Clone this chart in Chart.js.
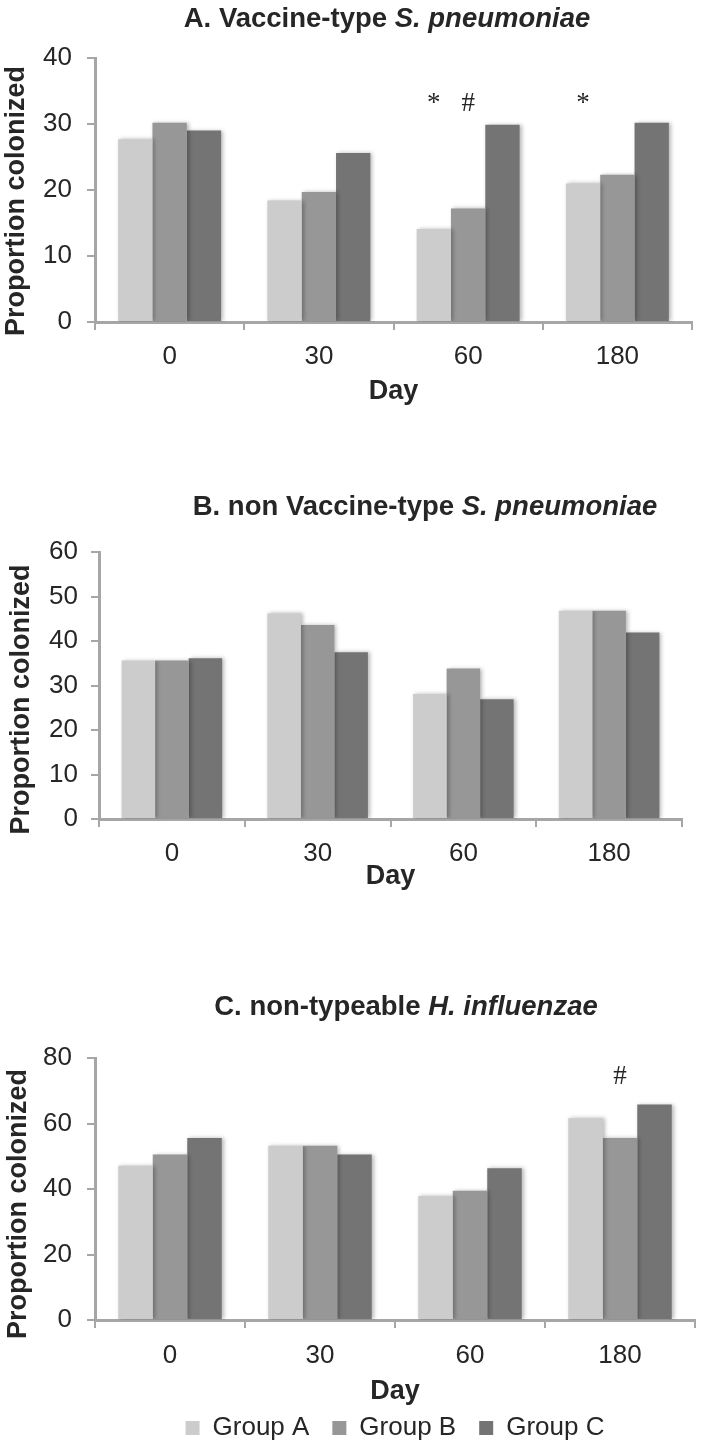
<!DOCTYPE html>
<html>
<head>
<meta charset="utf-8">
<script src="https://cdn.jsdelivr.net/npm/chart.js@4.4.1/dist/chart.umd.min.js"></script>
<style>
  html, body { margin: 0; padding: 0; background: #fff; overflow: hidden; }
  .panel { position: absolute; left: 0; width: 701px; }
</style>
</head>
<body>
<div class="panel" style="top:0px;height:410px"><canvas id="chartA"></canvas></div>
<div class="panel" style="top:470px;height:425px"><canvas id="chartB"></canvas></div>
<div class="panel" style="top:940px;height:511px"><canvas id="chartC"></canvas></div>
<script>
var days = ['0', '30', '60', '180'];
var groups = ['Group A', 'Group B', 'Group C'];

// A. vaccine-type S. pneumoniae
var vtGroupA = [27.7, 18.4, 14.1, 21.0];
var vtGroupB = [30.2, 19.7, 17.2, 22.3];
var vtGroupC = [29.0, 25.6, 29.9, 30.2];
var vtTicks = [0, 10, 20, 30, 40];

// B. non vaccine-type S. pneumoniae
var nvtGroupA = [35.6, 46.2, 28.1, 46.8];
var nvtGroupB = [35.6, 43.6, 33.8, 46.8];
var nvtGroupC = [36.1, 37.5, 26.9, 41.9];
var nvtTicks = [0, 10, 20, 30, 40, 50, 60];

// C. non-typeable H. influenzae
var ntGroupA = [47.1, 53.2, 37.9, 61.6];
var ntGroupB = [50.5, 53.2, 39.5, 55.6];
var ntGroupC = [55.6, 50.5, 46.3, 65.8];
var ntTicks = [0, 20, 40, 60, 80];

// significance marks: day, bar it sits over, symbol, height on value axis
var vtMarks = [['60', 0, '*', 32], ['60', 1, '#', 32], ['180', 0, '*', 32]];
var nvtMarks = [];
var ntMarks = [['180', 1, '#', 72]];

var colors = ['#cccccc', '#979797', '#737473'];
var axisGray = '#a6a6a6';
var textColor = '#262626';
var sans = '"Liberation Sans", Arial, sans-serif';

var barShadow = {
  id: 'barShadow',
  beforeDatasetsDraw: function(chart) {
    var c = chart.ctx;
    c.save();
    c.shadowColor = 'rgba(0,0,0,0.28)';
    c.shadowBlur = 4;
    c.shadowOffsetX = 2;
  },
  afterDatasetsDraw: function(chart) {
    chart.ctx.restore();
  }
};

// panel heading with an italic species name, plus the value axis title
var panelTitle = {
  id: 'panelTitle',
  afterDraw: function(chart, args, o) {
    var ctx = chart.ctx, area = chart.chartArea;
    var fontOf = function(p) { return (p[1] ? 'italic ' : '') + 'bold 27.5px ' + sans; };
    ctx.save();
    ctx.fillStyle = textColor;
    ctx.textAlign = 'left';
    ctx.textBaseline = 'alphabetic';
    var w = 0;
    o.parts.forEach(function(p) { ctx.font = fontOf(p); w += ctx.measureText(p[0]).width; });
    var x = o.cx - w / 2;
    o.parts.forEach(function(p) {
      ctx.font = fontOf(p);
      ctx.fillText(p[0], x, o.baseline);
      x += ctx.measureText(p[0]).width;
    });

    ctx.translate(o.yTitleX, (area.top + area.bottom) / 2 + o.yTitleShift);
    ctx.rotate(-Math.PI / 2);
    ctx.font = 'bold 27px ' + sans;
    ctx.textAlign = 'center';
    ctx.textBaseline = 'middle';
    ctx.fillText(o.yTitle, 0, 0);
    ctx.restore();
  }
};

var sigMarks = {
  id: 'sigMarks',
  afterDatasetsDraw: function(chart, args, o) {
    var ctx = chart.ctx, y = chart.scales.y;
    ctx.save();
    ctx.font = '27px "Liberation Serif", "Times New Roman", serif';
    ctx.fillStyle = textColor;
    ctx.textAlign = 'center';
    ctx.textBaseline = 'alphabetic';
    o.marks.forEach(function(m) {
      var bar = chart.getDatasetMeta(m[1]).data[days.indexOf(m[0])];
      ctx.fillText(m[2], bar.x, y.getPixelForValue(m[3]));
    });
    ctx.restore();
  }
};

function makeChart(id, series, ticks, marks, titleParts, lay) {
  return new Chart(document.getElementById(id), {
    type: 'bar',
    data: {
      labels: days,
      datasets: series.map(function(s, i) {
        return { label: groups[i], data: s, backgroundColor: colors[i], borderWidth: 0 };
      })
    },
    options: {
      responsive: true,
      maintainAspectRatio: false,
      animation: false,
      layout: { padding: { top: lay.top, right: lay.right, left: 0, bottom: 0 } },
      datasets: { bar: { categoryPercentage: 0.69, barPercentage: 1 } },
      scales: {
        x: {
          grid: { offset: true, drawOnChartArea: false, color: axisGray, lineWidth: 2, tickLength: 8 },
          border: { color: axisGray, width: 3 },
          ticks: { font: { family: sans, size: 26 }, color: textColor, padding: lay.xPad },
          title: { display: true, text: 'Day', color: textColor,
                   font: { family: sans, size: 27, weight: 'bold' },
                   padding: { top: 0, bottom: lay.dayPad } },
          afterFit: function(s) { s.height = lay.xHeight; }
        },
        y: {
          min: ticks[0],
          max: ticks[ticks.length - 1],
          afterBuildTicks: function(s) { s.ticks = ticks.map(function(v) { return { value: v }; }); },
          grid: { drawOnChartArea: false, color: axisGray, lineWidth: 2, tickLength: 8 },
          border: { color: axisGray, width: 3 },
          ticks: { font: { family: sans, size: 26 }, color: textColor, padding: lay.yPad },
          afterFit: function(s) { s.width = lay.yWidth; }
        }
      },
      plugins: {
        legend: {
          display: !!lay.legend,
          position: 'bottom',
          fullSize: false,
          labels: { font: { family: sans, size: 26 }, color: textColor, boxWidth: 14, boxHeight: 14, padding: 23 }
        },
        tooltip: { enabled: false },
        panelTitle: { parts: titleParts, cx: lay.titleX, baseline: lay.titleY,
                      yTitle: 'Proportion colonized', yTitleX: lay.yTitleX, yTitleShift: lay.yTitleShift },
        sigMarks: { marks: marks }
      }
    },
    plugins: [barShadow, panelTitle, sigMarks]
  });
}

makeChart('chartA', [vtGroupA, vtGroupB, vtGroupC], vtTicks, vtMarks,
  [['A. Vaccine-type ', false], ['S. pneumoniae', true]],
  { top: 58, right: 9, yWidth: 95, yPad: 15, xHeight: 88, xPad: 11, dayPad: 2,
    titleX: 387, titleY: 27, yTitleX: 17, yTitleShift: 11 });

makeChart('chartB', [nvtGroupA, nvtGroupB, nvtGroupC], nvtTicks, nvtMarks,
  [['B. non Vaccine-type ', false], ['S. pneumoniae', true]],
  { top: 82, right: 19, yWidth: 99, yPad: 13, xHeight: 76, xPad: 11, dayPad: 2,
    titleX: 425, titleY: 45, yTitleX: 22, yTitleShift: 14 });

makeChart('chartC', [ntGroupA, ntGroupB, ntGroupC], ntTicks, ntMarks,
  [['C. non-typeable ', false], ['H. influenzae', true]],
  { top: 118, right: 6, yWidth: 95, yPad: 15, xHeight: 72, xPad: 12, dayPad: -16,
    titleX: 406, titleY: 75, yTitleX: 19, yTitleShift: 15, legend: true });
</script>
</body>
</html>
